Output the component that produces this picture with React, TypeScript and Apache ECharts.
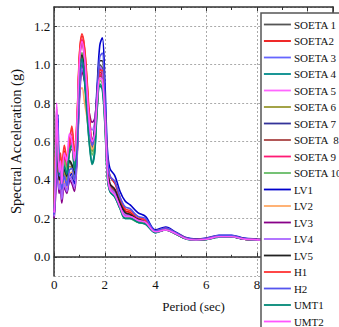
import React, { useEffect, useRef } from "react";
import * as echarts from "echarts";

const periods = [0,0.05,0.1,0.15,0.2,0.25,0.3,0.4,0.5,0.6,0.7,0.8,0.9,1.0,1.1,1.2,1.3,1.4,1.5,1.6,1.7,1.8,1.9,2.0,2.1,2.2,2.4,2.6,2.8,3.0,3.3,3.6,4.0,4.4,4.8,5.2,5.6,6.0,6.5,7.0,7.5,8.0,8.5,9.0,10.0];

const seriesNames = ["SOETA 1","SOETA2","SOETA 3","SOETA 4","SOETA 5","SOETA 6","SOETA 7","SOETA  8","SOETA 9","SOETA 10","LV1","LV2","LV3","LV4","LV5","H1","H2","UMT1","UMT2"];

const seriesColors = ["#555555","#ee1111","#6666ff","#008b8b","#ff66ff","#999933","#333399","#aa4444","#ff1a75","#66bb66","#0000cc","#ffaa66","#880088","#aa66ff","#222222","#ff3333","#5555ee","#008877","#ff55ff"];

const xTickLabels = ["0","2","4","6","8"];

const soeta1 = [0.24,0.42,0.55,0.48,0.40,0.45,0.38,0.46,0.41,0.50,0.47,0.44,0.62,0.96,1.06,0.97,0.80,0.64,0.56,0.62,0.84,1.00,0.98,0.76,0.45,0.36,0.33,0.27,0.22,0.21,0.19,0.18,0.13,0.14,0.12,0.095,0.088,0.092,0.104,0.104,0.092,0.088,0.084,0.08,0.075];
const soeta2 = [0.26,0.48,0.62,0.55,0.47,0.52,0.44,0.55,0.50,0.58,0.66,0.50,0.70,1.05,1.15,1.08,0.90,0.70,0.60,0.64,0.82,0.96,0.95,0.78,0.50,0.42,0.38,0.30,0.24,0.23,0.20,0.19,0.135,0.145,0.122,0.097,0.09,0.094,0.107,0.107,0.094,0.09,0.086,0.081,0.076];
const soeta3 = [0.22,0.36,0.50,0.44,0.36,0.40,0.33,0.42,0.38,0.44,0.43,0.40,0.56,0.90,1.02,0.92,0.76,0.62,0.55,0.61,0.80,0.94,0.93,0.74,0.46,0.36,0.33,0.27,0.22,0.21,0.19,0.18,0.13,0.145,0.12,0.095,0.088,0.092,0.104,0.105,0.093,0.088,0.084,0.08,0.075];
const soeta4 = [0.25,0.45,0.58,0.62,0.44,0.50,0.42,0.48,0.44,0.55,0.60,0.46,0.64,0.98,1.04,0.92,0.74,0.58,0.49,0.55,0.78,0.90,0.88,0.70,0.42,0.34,0.31,0.25,0.20,0.20,0.18,0.17,0.125,0.14,0.118,0.093,0.086,0.09,0.102,0.103,0.091,0.087,0.083,0.079,0.074];
const soeta5 = [0.23,0.40,0.78,0.60,0.42,0.48,0.36,0.52,0.48,0.62,0.65,0.52,0.68,1.00,1.10,1.02,0.84,0.66,0.58,0.63,0.82,0.93,0.92,0.74,0.44,0.35,0.32,0.26,0.21,0.21,0.19,0.18,0.13,0.14,0.12,0.094,0.087,0.091,0.104,0.104,0.092,0.088,0.084,0.08,0.075];
const soeta6 = [0.24,0.38,0.52,0.47,0.39,0.44,0.36,0.44,0.40,0.47,0.46,0.42,0.58,0.93,1.05,0.95,0.78,0.63,0.55,0.60,0.80,0.95,0.94,0.75,0.45,0.36,0.33,0.27,0.22,0.21,0.19,0.18,0.13,0.14,0.12,0.095,0.088,0.092,0.104,0.105,0.092,0.088,0.084,0.08,0.075];
const soeta7 = [0.21,0.34,0.46,0.42,0.34,0.38,0.31,0.40,0.36,0.42,0.41,0.38,0.54,0.88,1.00,0.94,0.78,0.64,0.57,0.62,0.82,0.97,0.97,0.76,0.46,0.37,0.34,0.27,0.22,0.21,0.19,0.18,0.13,0.145,0.12,0.096,0.088,0.092,0.105,0.105,0.093,0.088,0.084,0.08,0.075];
const soeta8 = [0.25,0.44,0.56,0.50,0.42,0.48,0.40,0.50,0.46,0.54,0.56,0.46,0.66,1.02,1.12,1.03,0.86,0.68,0.58,0.62,0.80,0.94,0.94,0.76,0.46,0.37,0.34,0.28,0.22,0.21,0.19,0.18,0.13,0.145,0.12,0.095,0.088,0.092,0.104,0.105,0.092,0.088,0.084,0.08,0.075];
const soeta9 = [0.26,0.46,0.60,0.52,0.45,0.50,0.42,0.52,0.47,0.56,0.62,0.48,0.68,1.03,1.13,1.05,0.88,0.69,0.59,0.63,0.81,0.95,0.94,0.76,0.47,0.38,0.35,0.28,0.23,0.22,0.20,0.185,0.132,0.145,0.121,0.096,0.089,0.093,0.106,0.106,0.093,0.089,0.085,0.08,0.075];
const soeta10 = [0.24,0.50,0.77,0.58,0.46,0.52,0.40,0.50,0.45,0.56,0.58,0.47,0.64,0.97,1.06,0.95,0.78,0.62,0.53,0.58,0.79,0.92,0.90,0.72,0.44,0.35,0.32,0.26,0.21,0.20,0.18,0.175,0.128,0.14,0.119,0.094,0.087,0.091,0.103,0.104,0.092,0.088,0.084,0.08,0.075];
const lv1 = [0.22,0.34,0.48,0.74,0.40,0.44,0.34,0.38,0.34,0.40,0.44,0.38,0.52,0.85,0.98,0.92,0.78,0.66,0.60,0.68,0.90,1.10,1.14,0.92,0.56,0.46,0.42,0.34,0.29,0.27,0.23,0.21,0.14,0.155,0.128,0.10,0.092,0.097,0.112,0.112,0.097,0.092,0.088,0.083,0.078];
const lv2 = [0.23,0.38,0.50,0.46,0.38,0.42,0.30,0.40,0.36,0.43,0.44,0.40,0.55,0.86,0.88,0.80,0.72,0.62,0.56,0.60,0.80,0.93,0.92,0.74,0.45,0.36,0.33,0.27,0.22,0.21,0.19,0.18,0.13,0.14,0.12,0.095,0.088,0.092,0.104,0.104,0.092,0.088,0.084,0.08,0.075];
const lv3 = [0.20,0.30,0.42,0.40,0.33,0.36,0.28,0.36,0.33,0.40,0.38,0.34,0.50,0.82,0.96,0.92,0.82,0.74,0.70,0.72,0.86,0.98,0.96,0.76,0.46,0.36,0.33,0.27,0.22,0.21,0.19,0.18,0.13,0.14,0.12,0.095,0.088,0.092,0.104,0.105,0.092,0.088,0.084,0.08,0.075];
const lv4 = [0.21,0.32,0.44,0.41,0.35,0.38,0.30,0.38,0.34,0.42,0.40,0.36,0.52,0.84,0.98,0.94,0.82,0.70,0.66,0.70,0.86,0.99,0.97,0.77,0.46,0.36,0.33,0.27,0.22,0.21,0.19,0.18,0.13,0.14,0.12,0.095,0.088,0.092,0.104,0.105,0.092,0.088,0.084,0.08,0.075];
const lv5 = [0.24,0.40,0.54,0.48,0.40,0.45,0.37,0.46,0.42,0.50,0.48,0.43,0.60,0.94,1.05,0.96,0.80,0.66,0.60,0.66,0.86,1.02,1.02,0.80,0.48,0.38,0.35,0.28,0.23,0.22,0.195,0.18,0.13,0.145,0.12,0.095,0.088,0.092,0.104,0.105,0.092,0.088,0.084,0.08,0.075];
const h1 = [0.27,0.50,0.64,0.56,0.48,0.54,0.46,0.58,0.52,0.60,0.68,0.55,0.72,1.06,1.16,1.09,0.92,0.72,0.60,0.64,0.82,0.97,0.97,0.80,0.52,0.42,0.39,0.31,0.25,0.24,0.21,0.19,0.135,0.148,0.124,0.098,0.09,0.095,0.108,0.108,0.094,0.09,0.086,0.081,0.076];
const h2 = [0.22,0.36,0.50,0.70,0.42,0.46,0.35,0.42,0.37,0.45,0.46,0.40,0.56,0.90,1.02,0.94,0.78,0.64,0.58,0.64,0.86,1.04,1.06,0.84,0.52,0.42,0.39,0.31,0.26,0.25,0.21,0.20,0.135,0.15,0.125,0.098,0.09,0.095,0.11,0.11,0.095,0.09,0.086,0.081,0.076];
const umt1 = [0.25,0.44,0.56,0.60,0.43,0.48,0.40,0.47,0.43,0.54,0.58,0.45,0.63,0.97,1.03,0.91,0.73,0.57,0.48,0.54,0.77,0.89,0.87,0.69,0.41,0.34,0.31,0.25,0.20,0.20,0.18,0.17,0.125,0.14,0.118,0.093,0.086,0.09,0.102,0.103,0.091,0.087,0.083,0.079,0.074];
const umt2 = [0.23,0.42,0.80,0.58,0.44,0.50,0.38,0.54,0.50,0.64,0.60,0.50,0.70,1.02,1.12,1.04,0.86,0.68,0.60,0.64,0.82,0.93,0.92,0.74,0.44,0.35,0.32,0.26,0.21,0.21,0.19,0.18,0.13,0.14,0.12,0.094,0.087,0.091,0.104,0.104,0.092,0.088,0.084,0.08,0.075];

const seriesValues = [soeta1, soeta2, soeta3, soeta4, soeta5, soeta6, soeta7, soeta8, soeta9, soeta10, lv1, lv2, lv3, lv4, lv5, h1, h2, umt1, umt2];

const FONT = "Liberation Serif";

export default function App() {
  const ref = useRef<HTMLDivElement>(null);
  useEffect(() => {
    if (!ref.current) return;
    const chart = echarts.init(ref.current, undefined, { renderer: "svg" });
    const axisColor = "#333";
    const option: any = {
      animation: false,
      backgroundColor: "#fff",
      grid: { left: 53, right: 6, top: 7, bottom: 51, containLabel: false },
      legend: {
        orient: "vertical",
        left: 261,
        top: 13,
        height: 340,
        padding: [6, 4, 6, 2],
        itemWidth: 27,
        itemHeight: 12,
        itemGap: 5.5,
        backgroundColor: "#fff",
        borderColor: "#555",
        borderWidth: 1.5,
        itemStyle: { opacity: 0 },
        lineStyle: { width: 1.8 },
        textStyle: { fontFamily: FONT, fontSize: 11, color: "#111", padding: [0, 0, 0, -2] },
        data: seriesNames,
      },
      xAxis: [
        {
          type: "value",
          min: 0,
          max: 11,
          splitNumber: 5,
          name: "Period (sec)",
          nameLocation: "middle",
          nameGap: 24,
          nameTextStyle: { fontFamily: FONT, fontSize: 13, color: "#111" },
          axisLine: { show: true, lineStyle: { color: axisColor, width: 1.5 } },
          axisTick: { show: true, inside: true, length: 4, lineStyle: { color: axisColor } },
          minorTick: { show: true, splitNumber: 2, length: 2, lineStyle: { color: axisColor } },
          axisLabel: {
            fontFamily: FONT,
            fontSize: 13,
            color: "#111",
            margin: 2,
            showMaxLabel: false,
            formatter: (v: number) => (xTickLabels.indexOf(String(v)) >= 0 ? String(v) : ""),
          },
          splitLine: { show: true, lineStyle: { color: "#aaa", type: [2, 2], width: 1 } },
        },
        {
          type: "value",
          position: "top",
          min: 0,
          max: 11,
          splitNumber: 5,
          axisLine: { show: true, onZero: false, lineStyle: { color: axisColor, width: 1.5 } },
          axisTick: { show: true, inside: true, length: 4, lineStyle: { color: axisColor } },
          minorTick: { show: true, splitNumber: 2, length: 3, lineStyle: { color: axisColor } },
          axisLabel: { show: false },
          splitLine: { show: false },
        },
      ],
      yAxis: [
        {
          type: "value",
          min: -0.1,
          max: 1.3,
          splitNumber: 7,
          name: "Spectral Acceleration (g)",
          nameLocation: "middle",
          nameGap: 23,
          nameTextStyle: { fontFamily: FONT, fontSize: 14.5, color: "#111" },
          axisLine: { show: true, onZero: false, lineStyle: { color: axisColor, width: 1.5 } },
          axisTick: { show: true, inside: true, length: 3, lineStyle: { color: axisColor } },
          axisLabel: {
            fontFamily: FONT,
            fontSize: 13,
            color: "#111",
            margin: 4,
            showMinLabel: false,
            showMaxLabel: false,
            formatter: (v: number) => v.toFixed(1),
          },
          splitLine: { show: true, lineStyle: { color: "#aaa", type: [2, 2], width: 1 } },
        },
        {
          type: "value",
          position: "right",
          min: -0.1,
          max: 1.3,
          splitNumber: 7,
          axisLine: { show: true, onZero: false, lineStyle: { color: axisColor, width: 1.5 } },
          axisTick: { show: false },
          axisLabel: { show: false },
          splitLine: { show: false },
        },
      ],
      series: seriesNames.map((name, i) => ({
        name,
        type: "line",
        xAxisIndex: 0,
        yAxisIndex: 0,
        symbol: "none",
        smooth: 0.35,
        color: seriesColors[i],
        lineStyle: { width: 1.6, color: seriesColors[i] },
        data: periods.map((t, k) => [t, seriesValues[i][k]]),
      })),
    };
    chart.setOption(option);
    return () => chart.dispose();
  }, []);
  return (
    <div
      ref={ref}
      style={{ position: "fixed", left: 0, top: 0, width: 339, height: 327 }}
    />
  );
}
